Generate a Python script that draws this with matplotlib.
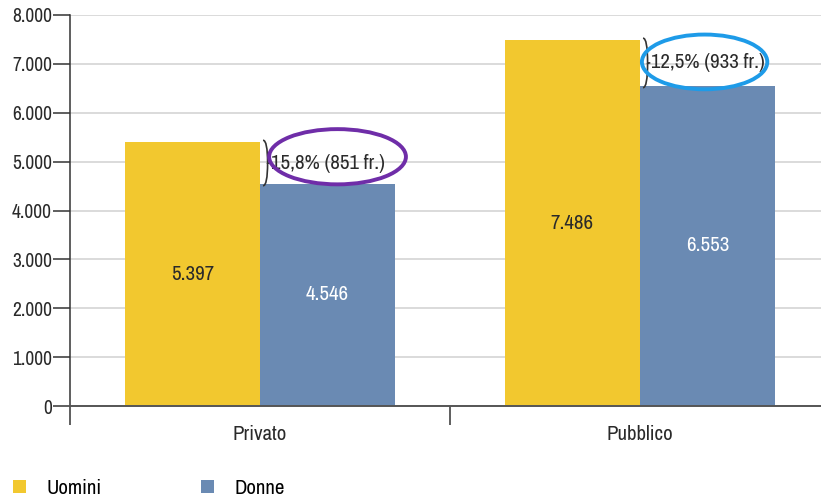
import numpy as np
import matplotlib.pyplot as plt
from matplotlib import font_manager
from matplotlib.patches import Ellipse, PathPatch
from matplotlib.path import Path

categories = ["Privato", "Pubblico"]
uomini = [5397, 7486]
donne = [4546, 6553]
gap_labels = ["15,8% (851 fr.)", "12,5% (933 fr.)"]
ring_colors = ["#6f2da8", "#1e9be8"]

fonts = sorted({(f.name, f.stretch) for f in font_manager.fontManager.ttflist})
narrow = [n for n, s in fonts if s in ("condensed", "semi-condensed", "extra-condensed")
          or "Narrow" in n or "Condensed" in n]
if narrow:
    plt.rcParams['font.family'] = [narrow[0], 'DejaVu Sans']
    plt.rcParams['font.stretch'] = 'condensed'
else:
    plt.rcParams['font.family'] = ['DejaVu Sans']

def fmt(v):
    return f"{v:,.0f}".replace(",", ".")

fig = plt.figure(figsize=(8.21, 4.97), dpi=100)
W, H = 821, 497
ax = fig.add_axes([70 / W, 1 - 406 / H, (821 - 70) / W, (406 - 15) / H])

x = np.arange(len(categories))
bw = 0.356
yellow = "#f2c82f"
blue = "#6a8ab3"
ax.bar(x - bw / 2, uomini, bw, color=yellow, zorder=2, label="Uomini")
ax.bar(x + bw / 2, donne, bw, color=blue, zorder=2, label="Donne")

for i in range(len(categories)):
    ax.text(x[i] - bw / 2, uomini[i] / 2, fmt(uomini[i]), ha="center", va="center",
            fontsize=15, color="#2a2a2a", zorder=3)
    ax.text(x[i] + bw / 2, donne[i] / 2, fmt(donne[i]), ha="center", va="center",
            fontsize=15, color="white", zorder=3)

    # brace between the two bar tops
    bx = x[i] + 0.008
    lo, hi = donne[i] - 40, uomini[i] + 40
    mid = (lo + hi) / 2
    dx = 0.012
    verts = [(bx, hi), (bx + dx, hi), (bx + dx, mid), (bx + dx * 1.6, mid),
             (bx + dx, mid), (bx + dx, lo), (bx, lo)]
    codes = [Path.MOVETO, Path.CURVE3, Path.CURVE3, Path.LINETO,
             Path.MOVETO, Path.CURVE3, Path.CURVE3]
    ax.add_patch(PathPatch(Path(verts, codes), fill=False, lw=1.2, color="#333333", zorder=3))
    ax.text(bx + dx * 1.7, mid, gap_labels[i], ha="left", va="center", fontsize=15,
            color="#2a2a2a", zorder=4)

# rings around the gap labels
ax.add_patch(Ellipse((0.204, 5100), 0.36, 1130, fill=False, lw=2.8,
                     edgecolor=ring_colors[0], zorder=5))
ax.add_patch(Ellipse((1.17, 7040), 0.33, 1120, fill=False, lw=2.8,
                     edgecolor=ring_colors[1], zorder=5))

ax.set_ylim(0, 8000)
ax.set_xlim(-0.5, -0.5 + 751 / 380)
ax.set_yticks(np.arange(0, 8001, 1000))
ax.set_yticklabels([fmt(v) for v in np.arange(0, 8001, 1000)], fontsize=14, color="#2a2a2a")
ax.yaxis.grid(True, color="#d4d4d4", lw=1.2, zorder=0)
ax.set_axisbelow(True)

ax.set_xticks([-0.5, 0.5])
ax.set_xticklabels([])
ax.set_xticks(x, minor=True)
ax.set_xticklabels(categories, minor=True, fontsize=15, color="#2a2a2a")
ax.tick_params(axis="x", which="major", length=14, width=1.1, color="#333333", direction="out")
ax.tick_params(axis="x", which="minor", length=0, pad=14)
ax.tick_params(axis="y", length=12, width=1.1, color="#333333", pad=1)

for s in ["top", "right"]:
    ax.spines[s].set_visible(False)
ax.spines["left"].set_color("#333333")
ax.spines["left"].set_linewidth(1.1)
ax.spines["left"].set_bounds(0, 8000)
ax.spines["bottom"].set_color("#555555")
ax.spines["bottom"].set_linewidth(1.4)

fig.legend(loc="lower left", bbox_to_anchor=(-0.007, -0.04), ncol=2, frameon=False,
           fontsize=15, handlelength=0.6, handleheight=0.6, columnspacing=4.8, handletextpad=1.0)

fig.savefig("out.png", dpi=100)
